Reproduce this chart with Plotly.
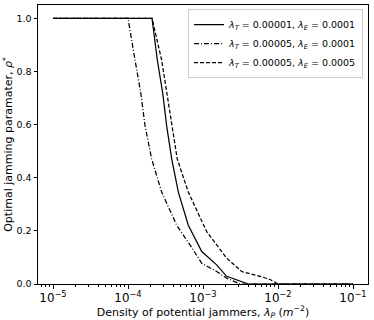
import plotly.graph_objects as go

# density of potential jammers (m^-2) and optimal jamming parameter
x_a = [1e-5, 2.09e-4, 2.46e-4, 2.90e-4, 3.28e-4, 3.83e-4, 4.69e-4, 6.37e-4,
       9.62e-4, 1.52e-3, 2.07e-3, 4.02e-3, 1e-2, 1e-1]
rho_a = [1.0, 1.0, 0.843, 0.719, 0.594, 0.470, 0.346, 0.221,
         0.122, 0.072, 0.029, 0.0, 0.0, 0.0]

x_b = [1e-5, 1.0e-4, 1.24e-4, 1.48e-4, 1.69e-4, 2.07e-4, 2.81e-4, 4.46e-4,
       6.71e-4, 9.62e-4, 1.52e-3, 2.07e-3, 3.11e-3, 1e-2, 1e-1]
rho_b = [1.0, 1.0, 0.843, 0.719, 0.594, 0.470, 0.346, 0.221,
         0.147, 0.078, 0.047, 0.022, 0.0, 0.0, 0.0]

x_c = [1e-5, 2.09e-4, 2.81e-4, 3.28e-4, 3.83e-4, 4.54e-4, 6.37e-4, 9.62e-4,
       1.12e-3, 2.07e-3, 3.28e-3, 5.75e-3, 7.82e-3, 1e-2, 1e-1]
rho_c = [1.0, 1.0, 0.843, 0.719, 0.594, 0.470, 0.346, 0.234,
         0.197, 0.097, 0.047, 0.029, 0.017, 0.0, 0.0]

names = [
    "<i>λ</i><sub><i>T</i></sub> = 0.00001, <i>λ</i><sub><i>E</i></sub> = 0.0001",
    "<i>λ</i><sub><i>T</i></sub> = 0.00005, <i>λ</i><sub><i>E</i></sub> = 0.0001",
    "<i>λ</i><sub><i>T</i></sub> = 0.00005, <i>λ</i><sub><i>E</i></sub> = 0.0005",
]
dashes = ["solid", "5px,2px,1px,2px", "4px,2px"]

fig = go.Figure()
for x, y, name, dash in zip([x_a, x_b, x_c], [rho_a, rho_b, rho_c], names, dashes):
    fig.add_trace(go.Scatter(x=x, y=y, mode="lines", name=name,
                             line=dict(color="black", width=1.25, dash=dash)))

font = dict(family="DejaVu Sans", size=9.5, color="black")

fig.update_layout(
    width=374, height=320,
    margin=dict(l=38, r=6, t=4, b=34),
    plot_bgcolor="white", paper_bgcolor="white",
    font=font,
    showlegend=True,
    legend=dict(x=0.985, y=0.985, xanchor="right", yanchor="top",
                bgcolor="rgba(255,255,255,0.8)", bordercolor="#cccccc",
                borderwidth=1, itemwidth=30, tracegroupgap=0,
                font=dict(family="DejaVu Sans", size=9.5, color="black")),
)
fig.update_xaxes(
    type="log", range=[-5.2, -0.8], dtick=1, exponentformat="power",
    showline=True, linecolor="black", linewidth=1, mirror=True,
    ticks="outside", ticklen=3.5, tickcolor="black", showgrid=False, zeroline=False,
    minor=dict(ticks="outside", ticklen=2, tickcolor="black", showgrid=False),
    title=dict(text="Density of potential jammers, <i>λ<sub>P</sub></i> (<i>m</i><sup>−2</sup>)",
               standoff=3),
)
fig.update_yaxes(
    range=[0, 1.05], dtick=0.2, tickformat=".1f",
    showline=True, linecolor="black", linewidth=1, mirror=True,
    ticks="outside", ticklen=3.5, tickcolor="black", showgrid=False, zeroline=False,
    title=dict(text="Optimal jamming paramater, <i>ρ</i><sup>*</sup>", standoff=1),
)

# the page body has a default 8px margin; drop it so the figure sits at the corner
fig.write_html("out.html", config={"displayModeBar": False},
               post_script="document.body.style.margin='0px';")
